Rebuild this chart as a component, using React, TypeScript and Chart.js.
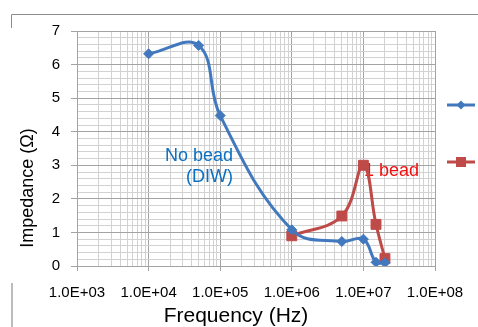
import React, { useEffect, useRef } from 'react';
import { Chart, registerables } from 'chart.js';

Chart.register(...registerables);

// ---- data ----
const noBeadFreq = [1e4, 5e4, 1e5, 1e6, 5e6, 1e7, 1.5e7, 2e7];
const noBeadZ = [6.32, 6.57, 4.48, 1.08, 0.73, 0.8, 0.11, 0.1];
const beadFreq = [1e6, 5e6, 1e7, 1.5e7, 2e7];
const beadZ = [0.9, 1.49, 3.0, 1.24, 0.22];

const xDecades = [1e3, 1e4, 1e5, 1e6, 1e7, 1e8];
const xTickLabels = ['1.0E+03', '1.0E+04', '1.0E+05', '1.0E+06', '1.0E+07', '1.0E+08'];
const xMinorMultipliers = [2, 3, 4, 5, 6, 7, 8, 9];
const yMajorTicks = [0, 1, 2, 3, 4, 5, 6, 7];
const yMinorPerUnit = 5;

const FONT = '"Liberation Sans", Arial, sans-serif';
const BLUE = '#4279BE';
const RED = '#BE4B48';
const MAJOR_GRID = '#a3a3a3';
const MINOR_GRID = '#d2d2d2';

const xTickValues: number[] = [];
xDecades.forEach((d, i) => {
  xTickValues.push(d);
  if (i < xDecades.length - 1) xMinorMultipliers.forEach((m) => xTickValues.push(d * m));
});
xTickValues.sort((a, b) => a - b);

const yTickValues: number[] = [];
for (let i = 0; i <= (yMajorTicks.length - 1) * yMinorPerUnit; i++) yTickValues.push(i / yMinorPerUnit);

const isDecade = (v: number) => {
  const l = Math.log10(v);
  return Math.abs(l - Math.round(l)) < 1e-9;
};
const isInt = (v: number) => Math.abs(v - Math.round(v)) < 1e-9;

const decorPlugin = {
  id: 'decor',
  beforeDatasetsDraw(chart: any) {
    const ctx = chart.ctx as CanvasRenderingContext2D;
    ctx.save();
    ctx.font = `18px ${FONT}`;
    ctx.textAlign = 'right';
    ctx.textBaseline = 'alphabetic';
    ctx.fillStyle = '#0A6FC2';
    ctx.fillText('No bead', 233, 161);
    ctx.fillText('(DIW)', 233, 181.5);
    ctx.fillStyle = '#F01010';
    ctx.fillText('1 bead', 419, 176);
    ctx.restore();
  },
  afterDraw(chart: any) {
    const ctx = chart.ctx as CanvasRenderingContext2D;
    ctx.save();
    // frame remnants
    ctx.strokeStyle = '#8c8c8c';
    ctx.lineWidth = 1;
    ctx.beginPath();
    ctx.moveTo(11.5, 28);
    ctx.lineTo(11.5, 14.5);
    ctx.lineTo(478, 14.5);
    ctx.stroke();
    ctx.strokeStyle = '#a6a6a6';
    ctx.lineWidth = 1.5;
    ctx.beginPath();
    ctx.moveTo(12, 283);
    ctx.lineTo(12, 327);
    ctx.stroke();

    // axis titles
    ctx.fillStyle = '#000';
    ctx.font = `21px ${FONT}`;
    ctx.textAlign = 'center';
    ctx.textBaseline = 'alphabetic';
    ctx.fillText('Frequency (Hz)', 236, 322);
    ctx.save();
    ctx.translate(33, 188);
    ctx.rotate(-Math.PI / 2);
    ctx.font = `18px ${FONT}`;
    ctx.fillText('Impedance (Ω)', 0, 0);
    ctx.restore();

    // legend symbols (text is cut off)
    ctx.lineWidth = 3;
    ctx.strokeStyle = BLUE;
    ctx.beginPath();
    ctx.moveTo(447, 105);
    ctx.lineTo(475, 105);
    ctx.stroke();
    ctx.fillStyle = BLUE;
    ctx.beginPath();
    ctx.moveTo(461, 100.5);
    ctx.lineTo(465.5, 105);
    ctx.lineTo(461, 109.5);
    ctx.lineTo(456.5, 105);
    ctx.closePath();
    ctx.fill();
    ctx.strokeStyle = RED;
    ctx.beginPath();
    ctx.moveTo(447, 162);
    ctx.lineTo(475, 162);
    ctx.stroke();
    ctx.fillStyle = RED;
    ctx.fillRect(456, 157, 10, 10);
    ctx.restore();
  },
};

export default function App() {
  const ref = useRef<HTMLCanvasElement | null>(null);
  useEffect(() => {
    if (!ref.current) return;
    const chart = new Chart(ref.current, {
      type: 'line',
      data: {
        datasets: [
          {
            label: 'No bead (DIW)',
            data: noBeadFreq.map((f, i) => ({ x: f, y: noBeadZ[i] })),
            borderColor: BLUE,
            backgroundColor: BLUE,
            borderWidth: 3,
            tension: 0.4,
            pointStyle: 'rectRot',
            pointRadius: 5,
            pointBorderWidth: 1,
            pointBackgroundColor: BLUE,
            pointBorderColor: BLUE,
          },
          {
            label: '1 bead',
            data: beadFreq.map((f, i) => ({ x: f, y: beadZ[i] })),
            borderColor: RED,
            backgroundColor: RED,
            borderWidth: 3,
            tension: 0.4,
            pointStyle: 'rect',
            pointRadius: 7,
            pointBorderWidth: 1,
            pointBackgroundColor: RED,
            pointBorderColor: RED,
          },
        ],
      },
      options: {
        animation: false,
        responsive: false,
        devicePixelRatio: 1,
        layout: { padding: { top: 31, right: 43, left: 0, bottom: 0 } },
        plugins: { legend: { display: false }, tooltip: { enabled: false } },
        scales: {
          x: {
            type: 'logarithmic',
            min: 1e3,
            max: 1e8,
            afterBuildTicks: (scale: any) => {
              scale.ticks = xTickValues.map((v) => ({ value: v, major: isDecade(v) }));
            },
            afterFit: (scale: any) => {
              scale.height = 61;
            },
            ticks: {
              autoSkip: false,
              maxRotation: 0,
              minRotation: 0,
              padding: 13,
              color: '#000',
              font: { family: FONT, size: 15 },
              callback: (v: any) => {
                const i = xDecades.findIndex((d) => Math.abs(d - Number(v)) / d < 1e-9);
                return i >= 0 ? xTickLabels[i] : '';
              },
            },
            grid: {
              color: (c: any) => (c.tick && isDecade(c.tick.value) ? MAJOR_GRID : MINOR_GRID),
              tickColor: (c: any) => (c.tick && isDecade(c.tick.value) ? MAJOR_GRID : 'rgba(0,0,0,0)'),
              tickLength: 5,
              lineWidth: 1,
            },
            border: { color: MAJOR_GRID },
          },
          y: {
            type: 'linear',
            min: 0,
            max: 7,
            afterBuildTicks: (scale: any) => {
              scale.ticks = yTickValues.map((v) => ({ value: v }));
            },
            afterFit: (scale: any) => {
              scale.width = 77;
            },
            ticks: {
              autoSkip: false,
              padding: 11,
              color: '#000',
              font: { family: FONT, size: 15 },
              callback: (v: any) => (isInt(Number(v)) && yMajorTicks.includes(Math.round(Number(v))) ? String(Math.round(Number(v))) : ''),
            },
            grid: {
              color: (c: any) => (c.tick && isInt(c.tick.value) ? MAJOR_GRID : MINOR_GRID),
              tickColor: (c: any) => (c.tick && isInt(c.tick.value) ? MAJOR_GRID : 'rgba(0,0,0,0)'),
              tickLength: 6,
              lineWidth: 1,
            },
            border: { color: MAJOR_GRID },
          },
        },
      },
      plugins: [decorPlugin],
    } as any);
    return () => chart.destroy();
  }, []);

  return (
    <div style={{ position: 'fixed', left: 0, top: 0, width: 478, height: 327, background: '#fff' }}>
      <canvas ref={ref} width={478} height={327} style={{ display: 'block', width: 478, height: 327 }} />
    </div>
  );
}
